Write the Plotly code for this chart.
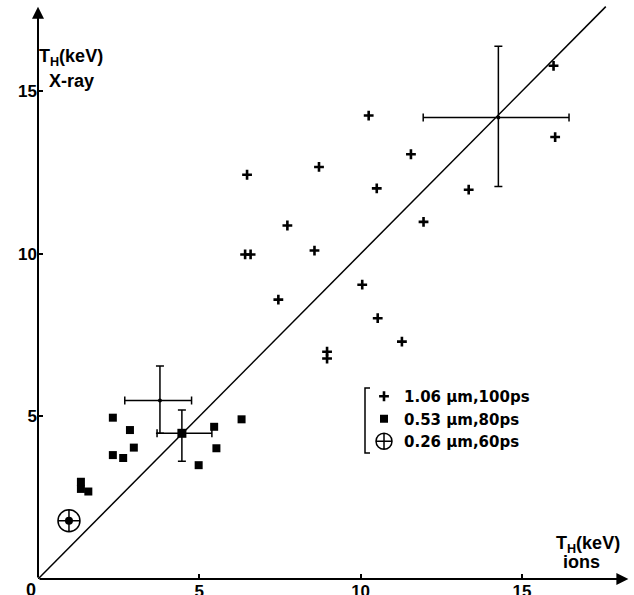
import plotly.graph_objects as go

# ---- data ----
cross_x = [6.48, 8.71, 10.25, 11.56, 10.50, 7.73, 6.42, 6.59, 8.57, 11.95,
           7.45, 10.05, 10.53, 11.28, 8.96, 8.96, 15.98, 16.03, 13.35]
cross_y = [12.43, 12.67, 14.25, 13.06, 12.01, 10.87, 9.98, 9.98, 10.10, 10.98,
           8.59, 9.05, 8.02, 7.30, 6.99, 6.78, 15.78, 13.59, 11.97]

square_x = [2.32, 2.85, 2.97, 2.32, 2.64, 1.33, 1.33, 1.56, 5.46, 5.53, 4.98, 6.31]
square_y = [4.96, 4.58, 4.04, 3.81, 3.72, 2.99, 2.77, 2.69, 4.68, 4.02, 3.50, 4.91]

target_x = [0.96]
target_y = [1.79]

# mean values with error bars
cross_mean_x = [3.78, 14.27]
cross_mean_y = [5.49, 14.19]
cross_err_x_plus = [0.98, 2.19]
cross_err_x_minus = [1.09, 2.33]
cross_err_y_plus = [1.06, 2.19]
cross_err_y_minus = [1.01, 2.12]

square_mean_x = [4.46]
square_mean_y = [4.48]
square_err_x_plus = [0.93]
square_err_x_minus = [0.77]
square_err_y_plus = [0.72]
square_err_y_minus = [0.86]

diag_x = [0, 17.6]
diag_y = [0, 17.6]

tick_vals = [5, 10, 15]
tick_text = ["5", "10", "15"]

legend_names = ["1.06 µm,100ps", "0.53 µm,80ps", "0.26 µm,60ps"]

X_MAX = 18.35
Y_MAX = 17.65

FONT = "Liberation Sans"
LEG_FONT = "DejaVu Sans"
BLACK = "black"

fig = go.Figure()

# diagonal
fig.add_trace(go.Scatter(x=diag_x, y=diag_y, mode="lines",
                         line=dict(color=BLACK, width=1.5),
                         showlegend=False, hoverinfo="skip"))

# error-bar points
fig.add_trace(go.Scatter(
    x=cross_mean_x, y=cross_mean_y, mode="markers",
    marker=dict(symbol="circle", size=4, color=BLACK),
    error_x=dict(type="data", symmetric=False, array=cross_err_x_plus,
                 arrayminus=cross_err_x_minus, color=BLACK, thickness=1.5, width=4),
    error_y=dict(type="data", symmetric=False, array=cross_err_y_plus,
                 arrayminus=cross_err_y_minus, color=BLACK, thickness=1.5, width=4),
    showlegend=False))
fig.add_trace(go.Scatter(
    x=square_mean_x, y=square_mean_y, mode="markers",
    marker=dict(symbol="square", size=9, color=BLACK),
    error_x=dict(type="data", symmetric=False, array=square_err_x_plus,
                 arrayminus=square_err_x_minus, color=BLACK, thickness=1.5, width=4),
    error_y=dict(type="data", symmetric=False, array=square_err_y_plus,
                 arrayminus=square_err_y_minus, color=BLACK, thickness=1.5, width=4),
    showlegend=False))

# series
fig.add_trace(go.Scatter(
    x=cross_x, y=cross_y, mode="markers", name=legend_names[0],
    marker=dict(symbol="cross-thin-open", size=7, color=BLACK,
                line=dict(color=BLACK, width=2.6))))
fig.add_trace(go.Scatter(
    x=square_x, y=square_y, mode="markers", name=legend_names[1],
    marker=dict(symbol="square", size=8, color=BLACK)))
fig.add_trace(go.Scatter(
    x=target_x, y=target_y, mode="markers", name=legend_names[2],
    marker=dict(symbol="circle-cross-open", size=22, color=BLACK,
                line=dict(color=BLACK, width=1.5))))
fig.add_trace(go.Scatter(
    x=target_x, y=target_y, mode="markers", showlegend=False,
    marker=dict(symbol="circle", size=8, color=BLACK)))

# axes arrows
fig.add_annotation(x=X_MAX - 0.05, y=0, ax=0, ay=0, xref="x", yref="y",
                   axref="x", ayref="y", showarrow=True, arrowhead=2,
                   arrowsize=1.2, arrowwidth=2, arrowcolor=BLACK, text="")
fig.add_annotation(x=0, y=Y_MAX - 0.05, ax=0, ay=0, xref="x", yref="y",
                   axref="x", ayref="y", showarrow=True, arrowhead=2,
                   arrowsize=1.2, arrowwidth=2, arrowcolor=BLACK, text="")

title_font = dict(family=FONT, size=18, color=BLACK, weight="bold")


def px_x(p):
    return (p - 38) / 592


def px_y(p):
    return (579 - p) / 574


# y-axis title
fig.add_annotation(x=px_x(71), y=px_y(57), xref="paper", yref="paper",
                   text="T<sub>H</sub>(keV)", showarrow=False, font=title_font,
                   xanchor="center", yanchor="middle")
fig.add_annotation(x=px_x(71), y=px_y(81), xref="paper", yref="paper",
                   text="X-ray", showarrow=False, font=title_font,
                   xanchor="center", yanchor="middle")
# x-axis title
fig.add_annotation(x=px_x(588), y=px_y(544), xref="paper", yref="paper",
                   text="T<sub>H</sub>(keV)", showarrow=False, font=title_font,
                   xanchor="center", yanchor="middle")
fig.add_annotation(x=px_x(581), y=px_y(562), xref="paper", yref="paper",
                   text="ions", showarrow=False, font=title_font,
                   xanchor="center", yanchor="middle")
# origin label
fig.add_annotation(x=px_x(30.5), y=px_y(590), xref="paper", yref="paper", text="0",
                   showarrow=False, xanchor="center", yanchor="middle",
                   font=dict(family=FONT, size=18, color=BLACK, weight="bold"))

# legend bracket
bx0 = px_x(365)
bx1 = px_x(370)
by0 = px_y(388)
by1 = px_y(453)
fig.add_shape(type="path", xref="paper", yref="paper",
              path=f"M {bx1} {by0} L {bx0} {by0} L {bx0} {by1} L {bx1} {by1}",
              line=dict(color=BLACK, width=1.5))

tickfont = dict(family=FONT, size=17, color=BLACK, weight="bold")
fig.update_xaxes(range=[0, X_MAX], tickvals=tick_vals, ticktext=tick_text,
                 ticks="inside", ticklen=5, tickwidth=1.5, tickcolor=BLACK,
                 showgrid=False, zeroline=False, showline=False,
                 tickfont=tickfont, ticklabelstandoff=0)
fig.update_yaxes(range=[0, Y_MAX], tickvals=tick_vals, ticktext=tick_text,
                 ticks="inside", ticklen=5, tickwidth=1.5, tickcolor=BLACK,
                 showgrid=False, zeroline=False, showline=False,
                 tickfont=tickfont)

fig.update_layout(
    width=634, height=595,
    margin=dict(l=38, r=4, t=5, b=16, autoexpand=False),
    plot_bgcolor="white", paper_bgcolor="white",
    showlegend=True,
    legend=dict(x=px_x(364), y=px_y(380), xanchor="left", yanchor="top",
                bgcolor="rgba(0,0,0,0)", borderwidth=0,
                font=dict(family=LEG_FONT, size=15, color=BLACK, weight="bold"),
                itemsizing="trace"),
)

fig.write_html("out.html")
